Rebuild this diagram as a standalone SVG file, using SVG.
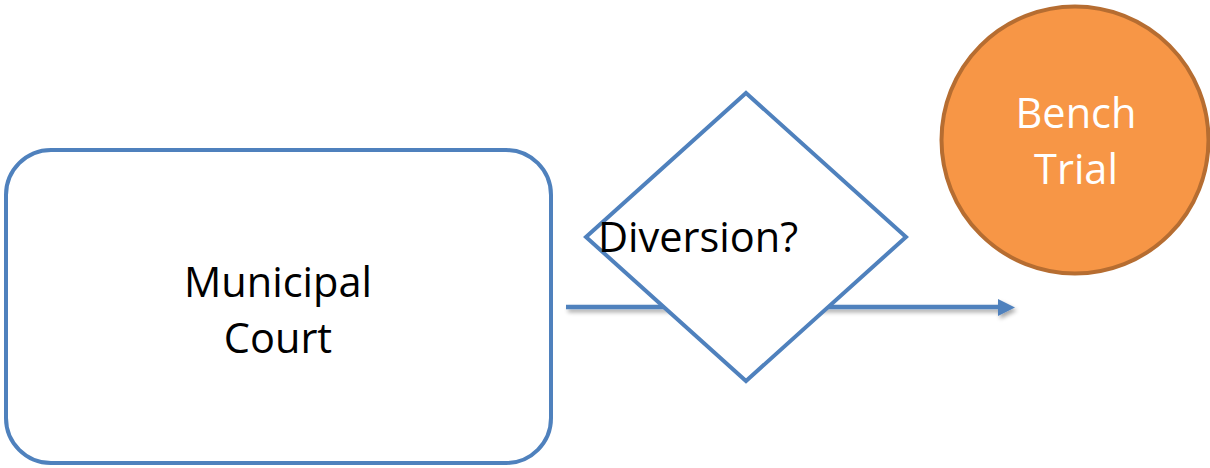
<svg xmlns="http://www.w3.org/2000/svg" width="1210" height="468" viewBox="0 0 1210 468">
  <defs>
    <filter id="shadow" x="-5%" y="-100%" width="110%" height="400%">
      <feGaussianBlur in="SourceAlpha" stdDeviation="2"/>
      <feOffset dx="2" dy="3" result="b"/>
      <feComponentTransfer><feFuncA type="linear" slope="0.35"/></feComponentTransfer>
      <feMerge><feMergeNode/><feMergeNode in="SourceGraphic"/></feMerge>
    </filter>
  </defs>
  <style>
    .outline { fill: #FFFFFF; stroke: #4F81BD; stroke-width: 4; }
    .label { font-family: "Open Sans", "Noto Sans", sans-serif; font-size: 41.5px; fill: #000000; }
    .white { fill: #FFFFFF; }
    .conn { stroke: #4F81BD; stroke-width: 4.5; fill: none; }
  </style>
  <rect width="1210" height="468" fill="#FFFFFF"/>
  <g id="connectors" filter="url(#shadow)">
    <line class="conn" x1="566" y1="307" x2="999" y2="307"/>
    <polygon points="998,299 1015,307.5 998,316" fill="#4F81BD"/>
  </g>
  <g id="municipal-court">
    <rect class="outline" x="6" y="150" width="545" height="313" rx="45" ry="45"/>
    <text class="label" x="278" y="297" text-anchor="middle">Municipal</text>
    <text class="label" x="278" y="353" text-anchor="middle">Court</text>
  </g>
  <g id="diversion">
    <polygon class="outline" points="746,93 906,237 746,381 586,237"/>
    <text class="label" x="598" y="252">Diversion?</text>
  </g>
  <g id="bench-trial">
    <circle cx="1075" cy="140" r="133.5" fill="#F79646" stroke="#B66D31" stroke-width="4"/>
    <text class="label white" x="1076" y="128" text-anchor="middle">Bench</text>
    <text class="label white" x="1076" y="184" text-anchor="middle">Trial</text>
  </g>
</svg>
